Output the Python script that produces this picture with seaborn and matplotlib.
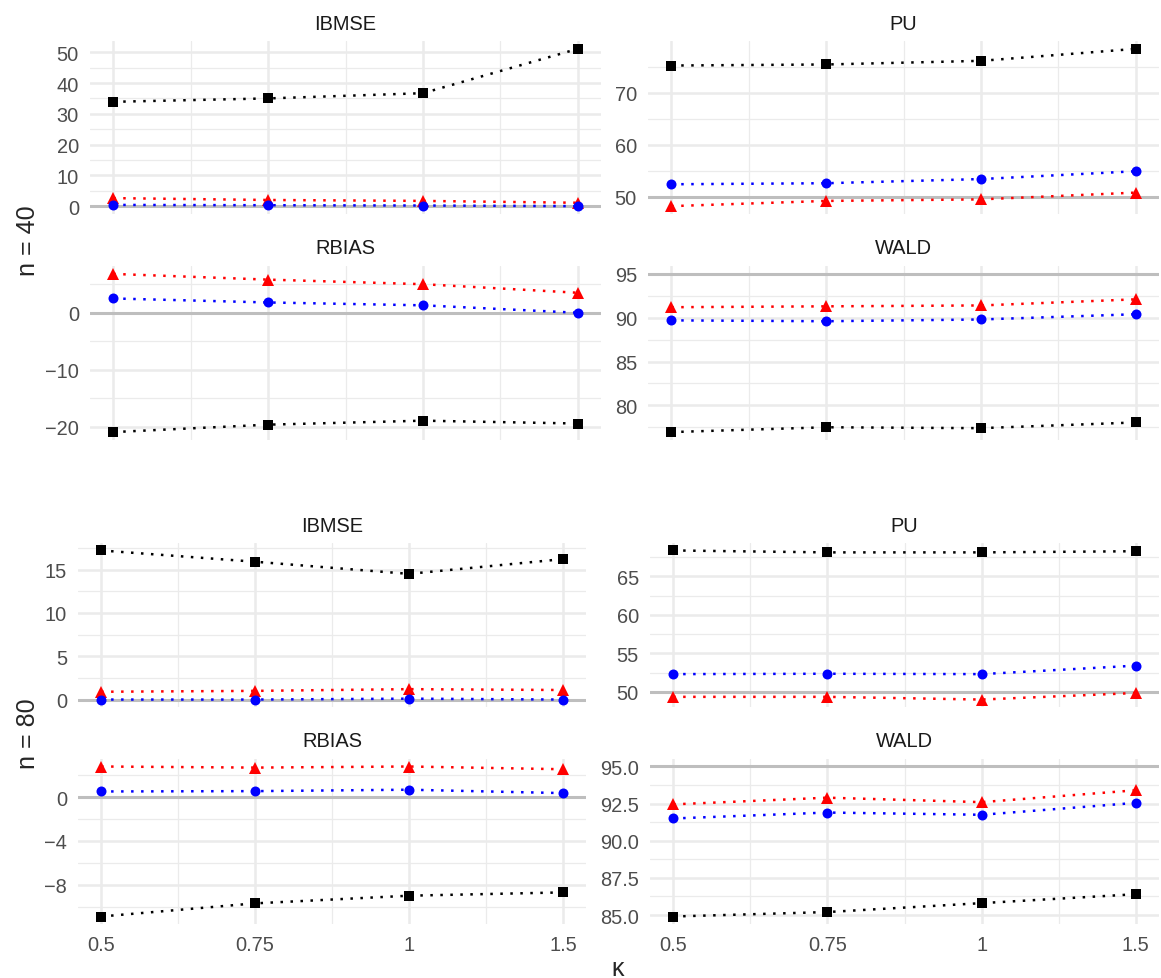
import numpy as np
import pandas as pd
import seaborn as sns
import matplotlib.pyplot as plt
from matplotlib.ticker import MultipleLocator, FixedLocator, AutoMinorLocator, FormatStrFormatter

# -----------------------------
# data
# -----------------------------
kappa = ["0.5", "0.75", "1", "1.5"]
methods = ["black", "red", "blue"]   # no legend in the chart, series keyed by colour

# n = 40
ibmse40_black = [33.9, 35.0, 36.7, 51.1]
ibmse40_red = [2.6, 2.0, 1.7, 1.1]
ibmse40_blue = [0.4, 0.3, 0.2, 0.0]
rbias40_black = [-20.9, -19.6, -18.9, -19.4]
rbias40_red = [6.8, 5.8, 5.0, 3.5]
rbias40_blue = [2.5, 1.8, 1.3, 0.0]
pu40_black = [75.2, 75.4, 76.1, 78.4]
pu40_red = [48.2, 49.2, 49.5, 50.8]
pu40_blue = [52.4, 52.6, 53.4, 54.9]
wald40_black = [76.95, 77.5, 77.4, 78.05]
wald40_red = [91.2, 91.3, 91.4, 92.1]
wald40_blue = [89.7, 89.6, 89.8, 90.4]

# n = 80
ibmse80_black = [17.2, 15.9, 14.5, 16.2]
ibmse80_red = [0.9, 1.0, 1.2, 1.1]
ibmse80_blue = [0.0, 0.0, 0.1, 0.0]
rbias80_black = [-10.9, -9.7, -9.0, -8.7]
rbias80_red = [2.8, 2.7, 2.8, 2.55]
rbias80_blue = [0.52, 0.55, 0.68, 0.37]
pu80_black = [68.35, 68.1, 68.1, 68.25]
pu80_red = [49.35, 49.35, 49.0, 49.85]
pu80_blue = [52.3, 52.35, 52.3, 53.4]
wald80_black = [84.9, 85.2, 85.8, 86.4]
wald80_red = [92.45, 92.9, 92.6, 93.4]
wald80_blue = [91.5, 91.9, 91.75, 92.55]

measures = ["IBMSE", "PU", "RBIAS", "WALD"]
ref_lines = {"IBMSE": 0, "PU": 50, "RBIAS": 0, "WALD": 95}

series = {
    (40, "IBMSE"): [ibmse40_black, ibmse40_red, ibmse40_blue],
    (40, "RBIAS"): [rbias40_black, rbias40_red, rbias40_blue],
    (40, "PU"): [pu40_black, pu40_red, pu40_blue],
    (40, "WALD"): [wald40_black, wald40_red, wald40_blue],
    (80, "IBMSE"): [ibmse80_black, ibmse80_red, ibmse80_blue],
    (80, "RBIAS"): [rbias80_black, rbias80_red, rbias80_blue],
    (80, "PU"): [pu80_black, pu80_red, pu80_blue],
    (80, "WALD"): [wald80_black, wald80_red, wald80_blue],
}

rows = []
for (n, meas), vals in series.items():
    for m, v in zip(methods, vals):
        for i, k in enumerate(kappa):
            rows.append({"n": n, "measure": meas, "method": m, "pos": i, "kappa": k, "value": v[i]})
df = pd.DataFrame(rows)

# -----------------------------
# style
# -----------------------------
sns.set_style("white")
plt.rcParams['font.family'] = ['Liberation Sans', 'DejaVu Sans']

colors = {"black": "black", "red": "red", "blue": "blue"}
markers = {"black": "s", "red": "^", "blue": "o"}
msize = {"black": 7.5, "red": 8.5, "blue": 7.2}

y_steps = {(40, "IBMSE"): 10, (40, "RBIAS"): 10, (40, "PU"): 10, (40, "WALD"): 5,
           (80, "IBMSE"): 5, (80, "RBIAS"): 4, (80, "PU"): 5, (80, "WALD"): 2.5}

W, H = 1161, 979
fig = plt.figure(figsize=(W / 100, H / 100), dpi=100)

# panel boxes in pixels: left, right, top, bottom
boxes = {
    (40, "IBMSE"): (90, 601, 42, 215),
    (40, "PU"): (648, 1159, 42, 215),
    (40, "RBIAS"): (90, 601, 267, 441),
    (40, "WALD"): (648, 1159, 267, 441),
    (80, "IBMSE"): (78, 586, 544, 708),
    (80, "PU"): (650, 1159, 544, 708),
    (80, "RBIAS"): (78, 586, 760, 925),
    (80, "WALD"): (650, 1159, 760, 925),
}


def draw_panel(key):
    n, meas = key
    l, r, t, b = boxes[key]
    ax = fig.add_axes([l / W, 1 - b / H, (r - l) / W, (b - t) / H])
    sub = df[(df.n == n) & (df.measure == meas)]
    ax.axhline(ref_lines[meas], color="#BEBEBE", lw=2.2, zorder=1.5)
    for m in methods:
        d = sub[sub.method == m]
        sns.lineplot(data=d, x="pos", y="value", ax=ax, color=colors[m],
                     marker=markers[m], markersize=msize[m], markeredgewidth=0,
                     linewidth=1.8, linestyle=(0, (1, 3)), errorbar=None,
                     legend=False, zorder=3)

    # ggplot-like 5% expansion, hline included
    lo = min(sub.value.min(), ref_lines[meas])
    hi = max(sub.value.max(), ref_lines[meas])
    pad = (hi - lo) * 0.05
    ax.set_ylim(lo - pad, hi + pad)
    ax.set_xlim(-0.15, len(kappa) - 1 + 0.15)

    ax.set_xticks(range(len(kappa)))
    ax.set_xticklabels(kappa)
    ax.xaxis.set_minor_locator(FixedLocator([i + 0.5 for i in range(len(kappa) - 1)]))
    ax.yaxis.set_major_locator(MultipleLocator(y_steps[key]))
    ax.yaxis.set_minor_locator(AutoMinorLocator(2))
    if y_steps[key] % 1:
        ax.yaxis.set_major_formatter(FormatStrFormatter("%.1f"))

    ax.set_axisbelow(True)
    ax.grid(which="major", color="#EBEBEB", lw=1.8)
    ax.grid(which="minor", color="#EBEBEB", lw=0.9)
    for s in ax.spines.values():
        s.set_visible(False)
    ax.tick_params(which="both", length=0, labelsize=14.4, labelcolor="#4D4D4D", pad=8)
    if n == 40 or meas in ("IBMSE", "PU"):
        ax.tick_params(axis="x", labelbottom=False)
    ax.set_xlabel("")
    ax.set_ylabel("")
    ax.set_title(meas, fontsize=14.4, color="#1A1A1A", pad=9)
    return ax


for key in boxes:
    draw_panel(key)

fig.text(28 / W, 1 - 241 / H, "n = 40", rotation=90, ha="center", va="center", fontsize=18)
fig.text(28 / W, 1 - 734 / H, "n = 80", rotation=90, ha="center", va="center", fontsize=18)
fig.text(618 / W, 1 - 976 / H, "κ", ha="center", va="baseline", fontsize=18)

fig.savefig("out.png", dpi=100)
